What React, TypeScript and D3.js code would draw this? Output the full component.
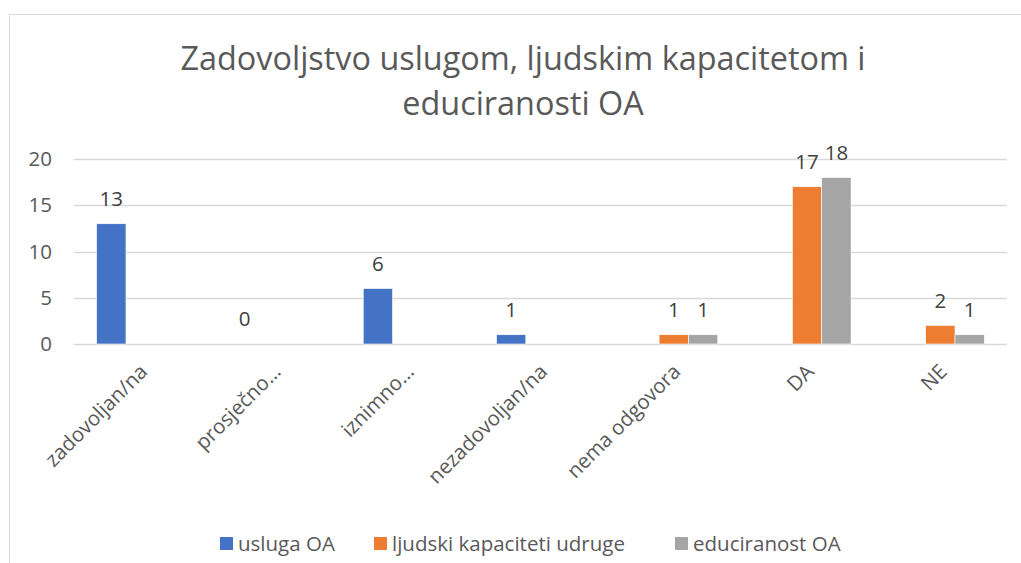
import React, { useEffect, useRef } from 'react';
import * as d3 from 'd3';

const categories = ['zadovoljan/na', 'prosječno…', 'iznimno…', 'nezadovoljan/na', 'nema odgovora', 'DA', 'NE'];
const seriesNames = ['usluga OA', 'ljudski kapaciteti udruge', 'educiranost OA'];
const seriesColors = ['#4472C4', '#ED7D31', '#A5A5A5'];
const uslugaOA = [13, 0, 6, 1, null, null, null];
const ljudskiKapaciteti = [null, null, null, null, 1, 17, 2];
const educiranostOA = [null, null, null, null, 1, 18, 1];
const yTicks = [0, 5, 10, 15, 20];
const titleLines = ['Zadovoljstvo uslugom, ljudskim kapacitetom i', 'educiranosti OA'];

const W = 1021;
const H = 563;
const font = '"Open Sans", "Noto Sans", sans-serif';
const textColor = '#595959';

export default function App() {
	const ref = useRef<SVGSVGElement>(null);

	useEffect(() => {
		const svg = d3.select(ref.current);
		svg.selectAll('*').remove();

		const margin = { l: 74, r: 14, t: 159, b: 219 };
		const plotW = W - margin.l - margin.r;
		const plotH = H - margin.t - margin.b;

		// chart frame
		svg.append('rect')
			.attr('x', 9.5)
			.attr('y', 14.5)
			.attr('width', W + 10)
			.attr('height', H + 10)
			.attr('fill', 'none')
			.attr('stroke', '#D9D9D9');

		// title
		svg.selectAll('.title')
			.data(titleLines)
			.join('text')
			.attr('class', 'title')
			.attr('x', 523)
			.attr('y', (d, i) => 70 + i * 45)
			.attr('text-anchor', 'middle')
			.attr('font-family', font)
			.attr('font-size', 32.4)
			.attr('fill', textColor)
			.text(d => d);

		const x0 = d3.scaleBand().domain(categories).range([0, plotW]).paddingInner(0).paddingOuter(0);
		const inner = 88 / 133.33;
		const x1 = d3.scaleBand()
			.domain(seriesNames)
			.range([x0.bandwidth() * (1 - inner) / 2, x0.bandwidth() * (1 + inner) / 2]);
		const y = d3.scaleLinear().domain([0, 20]).range([plotH, 0]);

		const g = svg.append('g').attr('transform', `translate(${margin.l},${margin.t})`);

		// gridlines
		g.selectAll('.grid')
			.data(yTicks)
			.join('line')
			.attr('x1', 0)
			.attr('x2', plotW)
			.attr('y1', d => Math.round(y(d)) + 0.5)
			.attr('y2', d => Math.round(y(d)) + 0.5)
			.attr('stroke', '#D9D9D9')
			.attr('stroke-width', 1.3);

		// y axis labels
		g.selectAll('.ytick')
			.data(yTicks)
			.join('text')
			.attr('x', -22)
			.attr('y', d => y(d) + 7)
			.attr('text-anchor', 'end')
			.attr('font-family', font)
			.attr('font-size', 20.5)
			.attr('fill', textColor)
			.text(d => d);

		const allSeries = [uslugaOA, ljudskiKapaciteti, educiranostOA];
		const flat: { cat: string; s: string; v: number; c: string }[] = [];
		allSeries.forEach((vals, si) => {
			vals.forEach((v, ci) => {
				if (v !== null) flat.push({ cat: categories[ci], s: seriesNames[si], v: v as number, c: seriesColors[si] });
			});
		});

		g.selectAll('.bar')
			.data(flat)
			.join('rect')
			.attr('x', d => (x0(d.cat) as number) + (x1(d.s) as number))
			.attr('y', d => y(d.v))
			.attr('width', x1.bandwidth())
			.attr('height', d => plotH - y(d.v))
			.attr('fill', d => d.c)
			.attr('stroke', '#ffffff')
			.attr('stroke-width', 0.6);

		g.selectAll('.lbl')
			.data(flat)
			.join('text')
			.attr('x', d => (x0(d.cat) as number) + (x1(d.s) as number) + x1.bandwidth() / 2)
			.attr('y', d => y(d.v) - 18)
			.attr('text-anchor', 'middle')
			.attr('font-family', font)
			.attr('font-size', 20.5)
			.attr('fill', '#404040')
			.text(d => d.v);

		// category labels, rotated
		g.selectAll('.xlbl')
			.data(categories)
			.join('text')
			.attr('transform', d => `translate(${(x0(d) as number) + x0.bandwidth() / 2 + 8},${plotH + 29}) rotate(-45)`)
			.attr('text-anchor', 'end')
			.attr('font-family', font)
			.attr('font-size', 20.5)
			.attr('fill', textColor)
			.text(d => d);

		// legend
		const legendX = [220, 374, 675];
		const lg = svg.selectAll('.leg')
			.data(seriesNames)
			.join('g')
			.attr('transform', (d, i) => `translate(${legendX[i]},537)`);
		lg.append('rect')
			.attr('width', 13)
			.attr('height', 13)
			.attr('fill', (d, i) => seriesColors[i]);
		lg.append('text')
			.attr('x', 18)
			.attr('y', 14)
			.attr('font-family', font)
			.attr('font-size', 20.5)
			.attr('fill', textColor)
			.text(d => d);
	}, []);

	return (
		<svg
			ref={ref}
			width={W}
			height={H}
			style={{ position: 'absolute', left: 0, top: 0, background: '#fff' }}
		/>
	);
}
